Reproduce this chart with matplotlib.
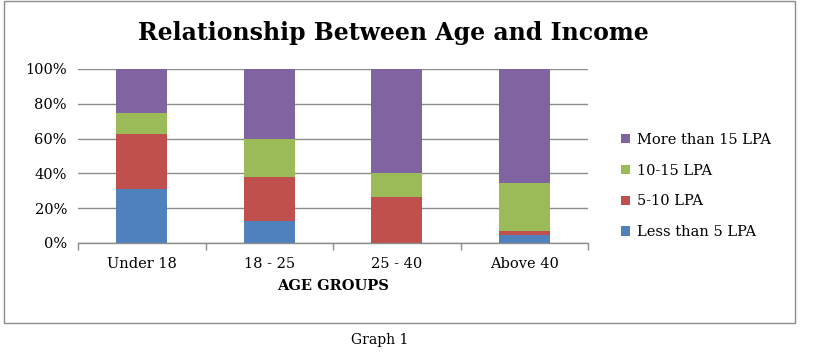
import numpy as np
import matplotlib
matplotlib.use("Agg")
import matplotlib.pyplot as plt
from matplotlib.patches import Rectangle

groups = ['Under 18', '18 - 25', '25 - 40', 'Above 40']
series = ['Less than 5 LPA', '5-10 LPA', '10-15 LPA', 'More than 15 LPA']
less_5 = [31.25, 12.8, 0.0, 4.6]
lpa_5_10 = [31.25, 25.1, 26.6, 2.3]
lpa_10_15 = [12.5, 21.9, 13.4, 27.6]
more_15 = [25.0, 40.2, 60.0, 65.5]
colors = ['#4F81BD', '#C0504D', '#9BBB59', '#8064A2']

plt.rcParams['font.family'] = ['DejaVu Serif']

fig = plt.figure(figsize=(8.13, 3.59), dpi=100)
ax = fig.add_axes([78 / 813, 1 - 243 / 359, 510 / 813, 174 / 359])

x = np.arange(len(groups))
bottom = np.zeros(len(groups))
for name, vals, c in zip(series, [less_5, lpa_5_10, lpa_10_15, more_15], colors):
    vals = np.array(vals)
    ax.bar(x, vals, 0.4, bottom=bottom, color=c, label=name, zorder=3)
    bottom += vals

ax.set_xlim(-0.5, 3.5)
ax.set_ylim(0, 100)
ax.set_yticks(np.arange(0, 101, 20))
ax.set_yticklabels([f'{v}%' for v in range(0, 101, 20)], fontsize=10.5)
ax.yaxis.grid(True, color='#8c8c8c', linewidth=1.0, zorder=0)
ax.tick_params(axis='y', length=0, pad=8)

ax.set_xticks(x)
ax.set_xticklabels(groups, fontsize=10.5)
ax.set_xticks(np.arange(-0.5, 4, 1), minor=True)
ax.tick_params(axis='x', which='major', length=0, pad=10)
ax.tick_params(axis='x', which='minor', length=5, color='#8c8c8c', width=1.0)
ax.set_xlabel('AGE GROUPS', fontsize=10.5, fontweight='bold', labelpad=6)

for s in ['top', 'right', 'left']:
    ax.spines[s].set_visible(False)
ax.spines['bottom'].set_color('#8c8c8c')
ax.spines['bottom'].set_linewidth(1.0)
ax.spines['bottom'].set_zorder(4)

h, l = ax.get_legend_handles_labels()
fig.legend(h[::-1], l[::-1], loc='center left', bbox_to_anchor=(608 / 813, 1 - 186 / 359),
           frameon=False, fontsize=10.5, handlelength=0.6, handleheight=0.6,
           handletextpad=0.5, labelspacing=1.15)

fig.text(393 / 813, 1 - 33 / 359, 'Relationship Between Age and Income',
         ha='center', va='center', fontsize=17, fontweight='bold')

fig.patches.append(Rectangle((4 / 813, 1 - 323 / 359), 791 / 813, 322 / 359,
                             transform=fig.transFigure, fill=False,
                             edgecolor='#8c8c8c', linewidth=1))

fig.text(380 / 813, 1 - 340 / 359, 'Graph 1', ha='center', va='center', fontsize=10)

fig.savefig('out.png', dpi=100)
